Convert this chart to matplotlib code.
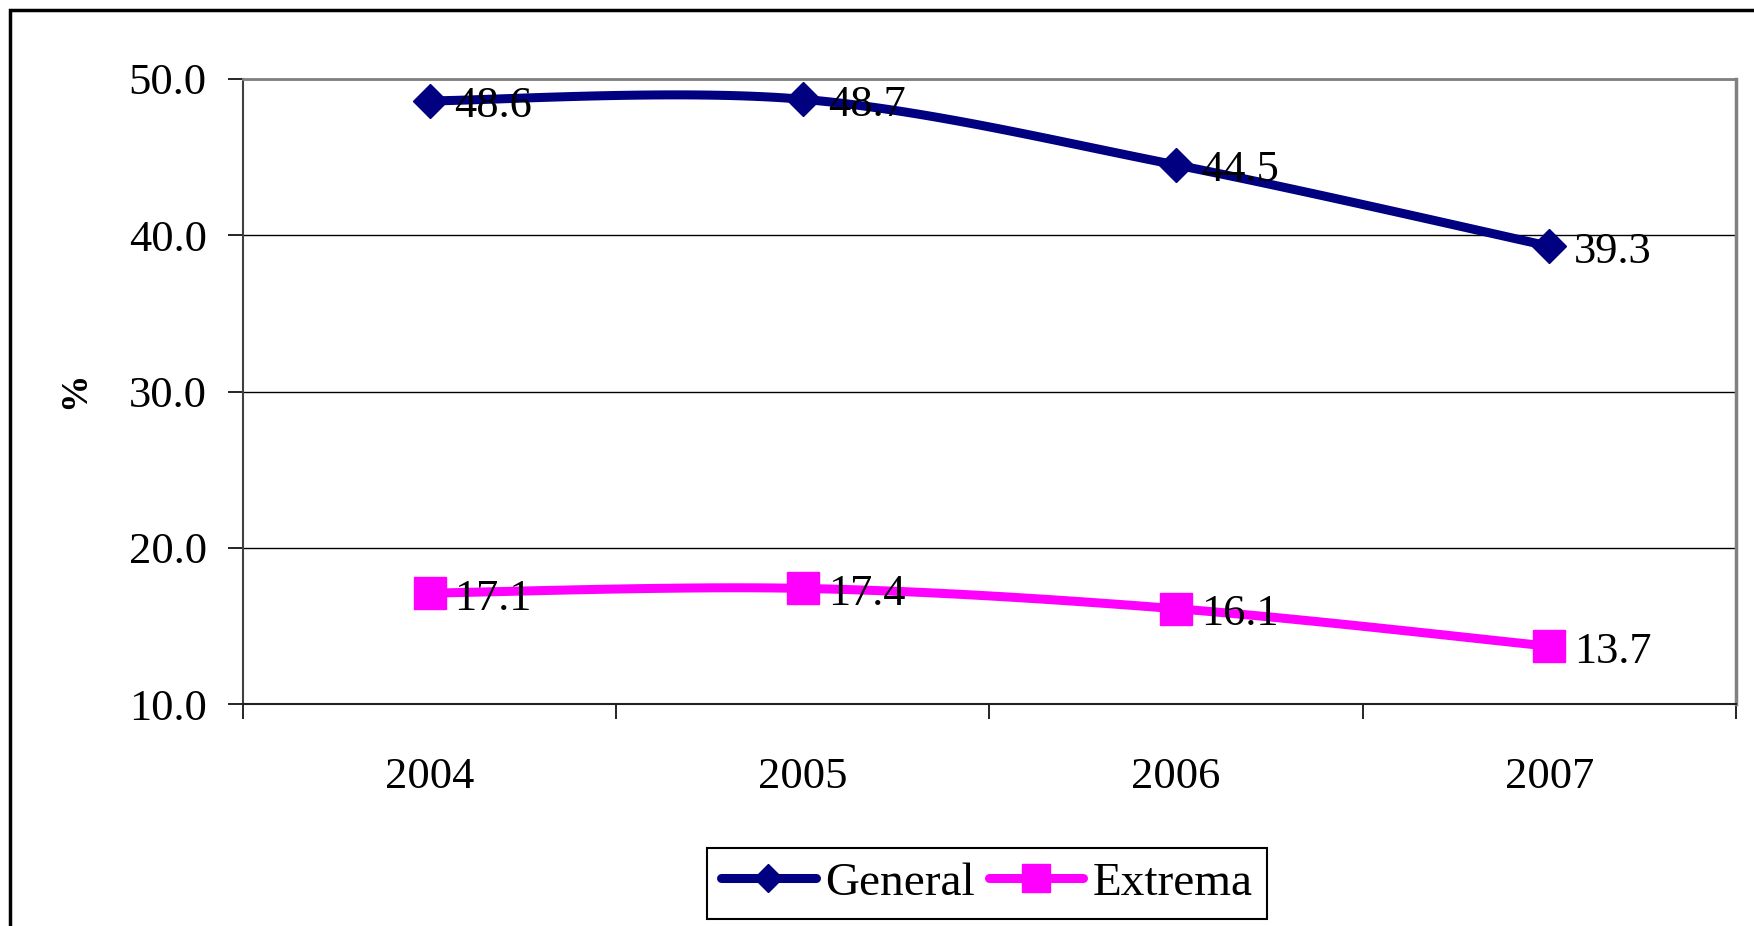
import numpy as np
import matplotlib
matplotlib.use('Agg')
import matplotlib.pyplot as plt
from matplotlib.lines import Line2D
from matplotlib.patches import Rectangle

plt.rcParams['font.family'] = ['Liberation Serif', 'DejaVu Serif']

YEARS = ['2004', '2005', '2006', '2007']
GENERAL = [48.6, 48.7, 44.5, 39.3]
EXTREMA = [17.1, 17.4, 16.1, 13.7]
YTICKS = [10.0, 20.0, 30.0, 40.0, 50.0]

NAVY = '#000080'
MAGENTA = '#FF00FF'


def smooth(x, y, n=40):
    # curva Bezier tipo "linea suavizada" de Excel
    x = np.asarray(x, float); y = np.asarray(y, float)
    px = np.concatenate([[x[0]], x, [x[-1]]])
    py = np.concatenate([[y[0]], y, [y[-1]]])
    xs, ys = [], []
    t = np.linspace(0, 1, n)
    for i in range(1, len(px) - 2):
        p0, p1, p2, p3 = [np.array([px[j], py[j]]) for j in (i-1, i, i+1, i+2)]
        c1 = p1 + (p2 - p0) / 6
        c2 = p2 - (p3 - p1) / 6
        pts = ((1-t)**3)[:, None]*p1 + (3*(1-t)**2*t)[:, None]*c1 \
            + (3*(1-t)*t**2)[:, None]*c2 + (t**3)[:, None]*p2
        xs.extend(pts[:, 0]); ys.extend(pts[:, 1])
    return np.array(xs), np.array(ys)


fig = plt.figure(figsize=(17.54, 9.26), dpi=100)
ax = fig.add_axes([0.1385, 0.2397, 0.8512, 0.675])

x = np.arange(len(YEARS))
for vals, col, mk, ms in [(GENERAL, NAVY, 'D', 17), (EXTREMA, MAGENTA, 's', 23)]:
    sx, sy = smooth(x, vals)
    ax.plot(sx, sy, color=col, lw=6.5, solid_capstyle='round', zorder=3)
    ax.plot(x, vals, ls='none', marker=mk, ms=ms, color=col, zorder=4)
    for xi, v in zip(x, vals):
        ax.annotate(f'{v:.1f}', (xi, v), xytext=(18, -4), textcoords='offset points',
                    ha='left', va='center', fontsize=32, zorder=5)

ax.set_ylim(10, 50)
ax.set_yticks(YTICKS)
ax.set_yticklabels([f'{v:.1f}' for v in YTICKS])
ax.set_xlim(-0.5, len(YEARS) - 0.5)
ax.set_xticks(np.arange(-0.5, len(YEARS)))
ax.set_xticklabels([])
ax.set_xticks(x, minor=True)
ax.set_xticklabels(YEARS, minor=True)
ax.tick_params(axis='x', which='major', length=11, width=1.2, direction='out')
ax.tick_params(axis='x', which='minor', length=0, pad=38, labelsize=32)
ax.tick_params(axis='y', length=11, width=1.2, direction='out', pad=15, labelsize=32)

ax.grid(axis='y', color='black', lw=1)
ax.set_axisbelow(True)
for s in ['top', 'right']:
    ax.spines[s].set_color('#808080')
ax.spines['top'].set_linewidth(2)
ax.spines['right'].set_linewidth(2.5)
ax.spines['left'].set_color('#404040')
ax.spines['left'].set_linewidth(1.5)
ax.spines['bottom'].set_color('#202020')
ax.spines['bottom'].set_linewidth(1.5)

fig.text(75/1754, 1 - 390/926, '%', rotation=90, ha='center', va='center',
         fontsize=27, fontweight='bold')

handles = [Line2D([], [], color=NAVY, lw=6.5, marker='D', ms=14, solid_capstyle='round'),
           Line2D([], [], color=MAGENTA, lw=6.5, marker='s', ms=20, solid_capstyle='round')]
leg = fig.legend(handles, ['General', 'Extrema'], loc='center', bbox_to_anchor=(0.5627, 0.046),
                 ncol=2, fontsize=34, fancybox=False, framealpha=1, edgecolor='black',
                 handlelength=2.0, handletextpad=0.2, columnspacing=0.3, borderpad=0.3)
leg.get_frame().set_linewidth(1.5)

fig.patches.append(Rectangle((10/1754, -0.1), 1.2, 1 - 10/926 + 0.1, transform=fig.transFigure,
                             fill=False, edgecolor='black', lw=2.5, clip_on=False))

fig.savefig('out.png', dpi=100)
